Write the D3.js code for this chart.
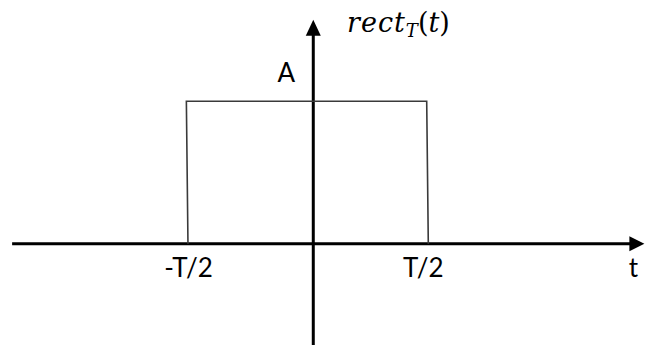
<!DOCTYPE html>
<html>
<head>
<meta charset="utf-8">
<script src="https://cdn.jsdelivr.net/npm/d3@7"></script>
<style>
  html, body { margin: 0; padding: 0; background: #fff; }
  svg { display: block; }
</style>
</head>
<body>
<svg id="chart" width="654" height="345"></svg>
<script>
// ---- data (t in units of T, amplitude in units of A) ----
const pulseT = [-0.548, -0.555, 0.496, 0.503];
const pulseA = [0, 1, 1, 0];
const tickValues = [-0.548, 0.503];
const tickLabels = ["-T/2", "T/2"];
const amplitudeLabel = "A";
const xAxisLabel = "t";
const xAxisExtent = [-1.317, 1.448];
const yAxisExtent = [-0.72, 1.571];

const W = 654, H = 345;
const svg = d3.select("#chart");

const x = d3.scaleLinear().domain([-1.37, 1.49]).range([0, W]);
const y = d3.scaleLinear().domain([-0.71, 1.71]).range([H, 0]);

const head = 15; // arrowhead length

// horizontal axis
svg.append("line")
  .attr("x1", x(xAxisExtent[0])).attr("x2", x(xAxisExtent[1]) - head + 1)
  .attr("y1", y(0)).attr("y2", y(0))
  .attr("stroke", "#000").attr("stroke-width", 3);
svg.append("path")
  .attr("d", `M${x(xAxisExtent[1])},${y(0)} L${x(xAxisExtent[1]) - head},${y(0) - 7.5} L${x(xAxisExtent[1]) - head},${y(0) + 7.5} Z`)
  .attr("fill", "#000");

// vertical axis
svg.append("line")
  .attr("x1", x(0)).attr("x2", x(0))
  .attr("y1", y(yAxisExtent[0])).attr("y2", y(yAxisExtent[1]) + head - 1)
  .attr("stroke", "#000").attr("stroke-width", 3);
svg.append("path")
  .attr("d", `M${x(0)},${y(yAxisExtent[1])} L${x(0) - 7.5},${y(yAxisExtent[1]) + head + 1} L${x(0) + 7.5},${y(yAxisExtent[1]) + head + 1} Z`)
  .attr("fill", "#000");

// pulse
const line = d3.line().x(d => x(d[0])).y(d => y(d[1]));
svg.append("path")
  .datum(pulseT.map((t, i) => [t, pulseA[i]]))
  .attr("d", line)
  .attr("fill", "none")
  .attr("stroke", "#3a3a3a")
  .attr("stroke-width", 1.6);

const labelFont = "Lato, 'Liberation Sans', sans-serif";

// tick labels
svg.selectAll("text.tick")
  .data(tickValues)
  .enter().append("text")
  .attr("class", "tick")
  .attr("x", (d, i) => x(d) + (i === 0 ? 0.5 : -5))
  .attr("y", 277)
  .attr("text-anchor", "middle")
  .attr("font-family", labelFont)
  .attr("font-size", 26)
  .attr("fill", "#000")
  .text((d, i) => tickLabels[i]);

// amplitude label
svg.append("text")
  .attr("x", x(0) - 27)
  .attr("y", y(1) - 19)
  .attr("text-anchor", "middle")
  .attr("font-family", labelFont)
  .attr("font-size", 26)
  .text(amplitudeLabel);

// t axis label
svg.append("text")
  .attr("x", x(xAxisExtent[1]) - 11)
  .attr("y", 277)
  .attr("text-anchor", "middle")
  .attr("font-family", labelFont)
  .attr("font-size", 26)
  .text(xAxisLabel);

// title rect_T(t)
const title = svg.append("text")
  .attr("x", 347)
  .attr("y", 32)
  .attr("font-family", "'DejaVu Serif', serif")
  .attr("font-size", 27)
  .attr("fill", "#000");
title.append("tspan").attr("font-style", "italic").attr("letter-spacing", 1).text("rect");
title.append("tspan").attr("font-style", "italic").attr("font-size", 18).attr("dy", 5).text("T");
title.append("tspan").attr("dy", -5).text("(");
title.append("tspan").attr("font-style", "italic").text("t");
title.append("tspan").text(")");
</script>
</body>
</html>
